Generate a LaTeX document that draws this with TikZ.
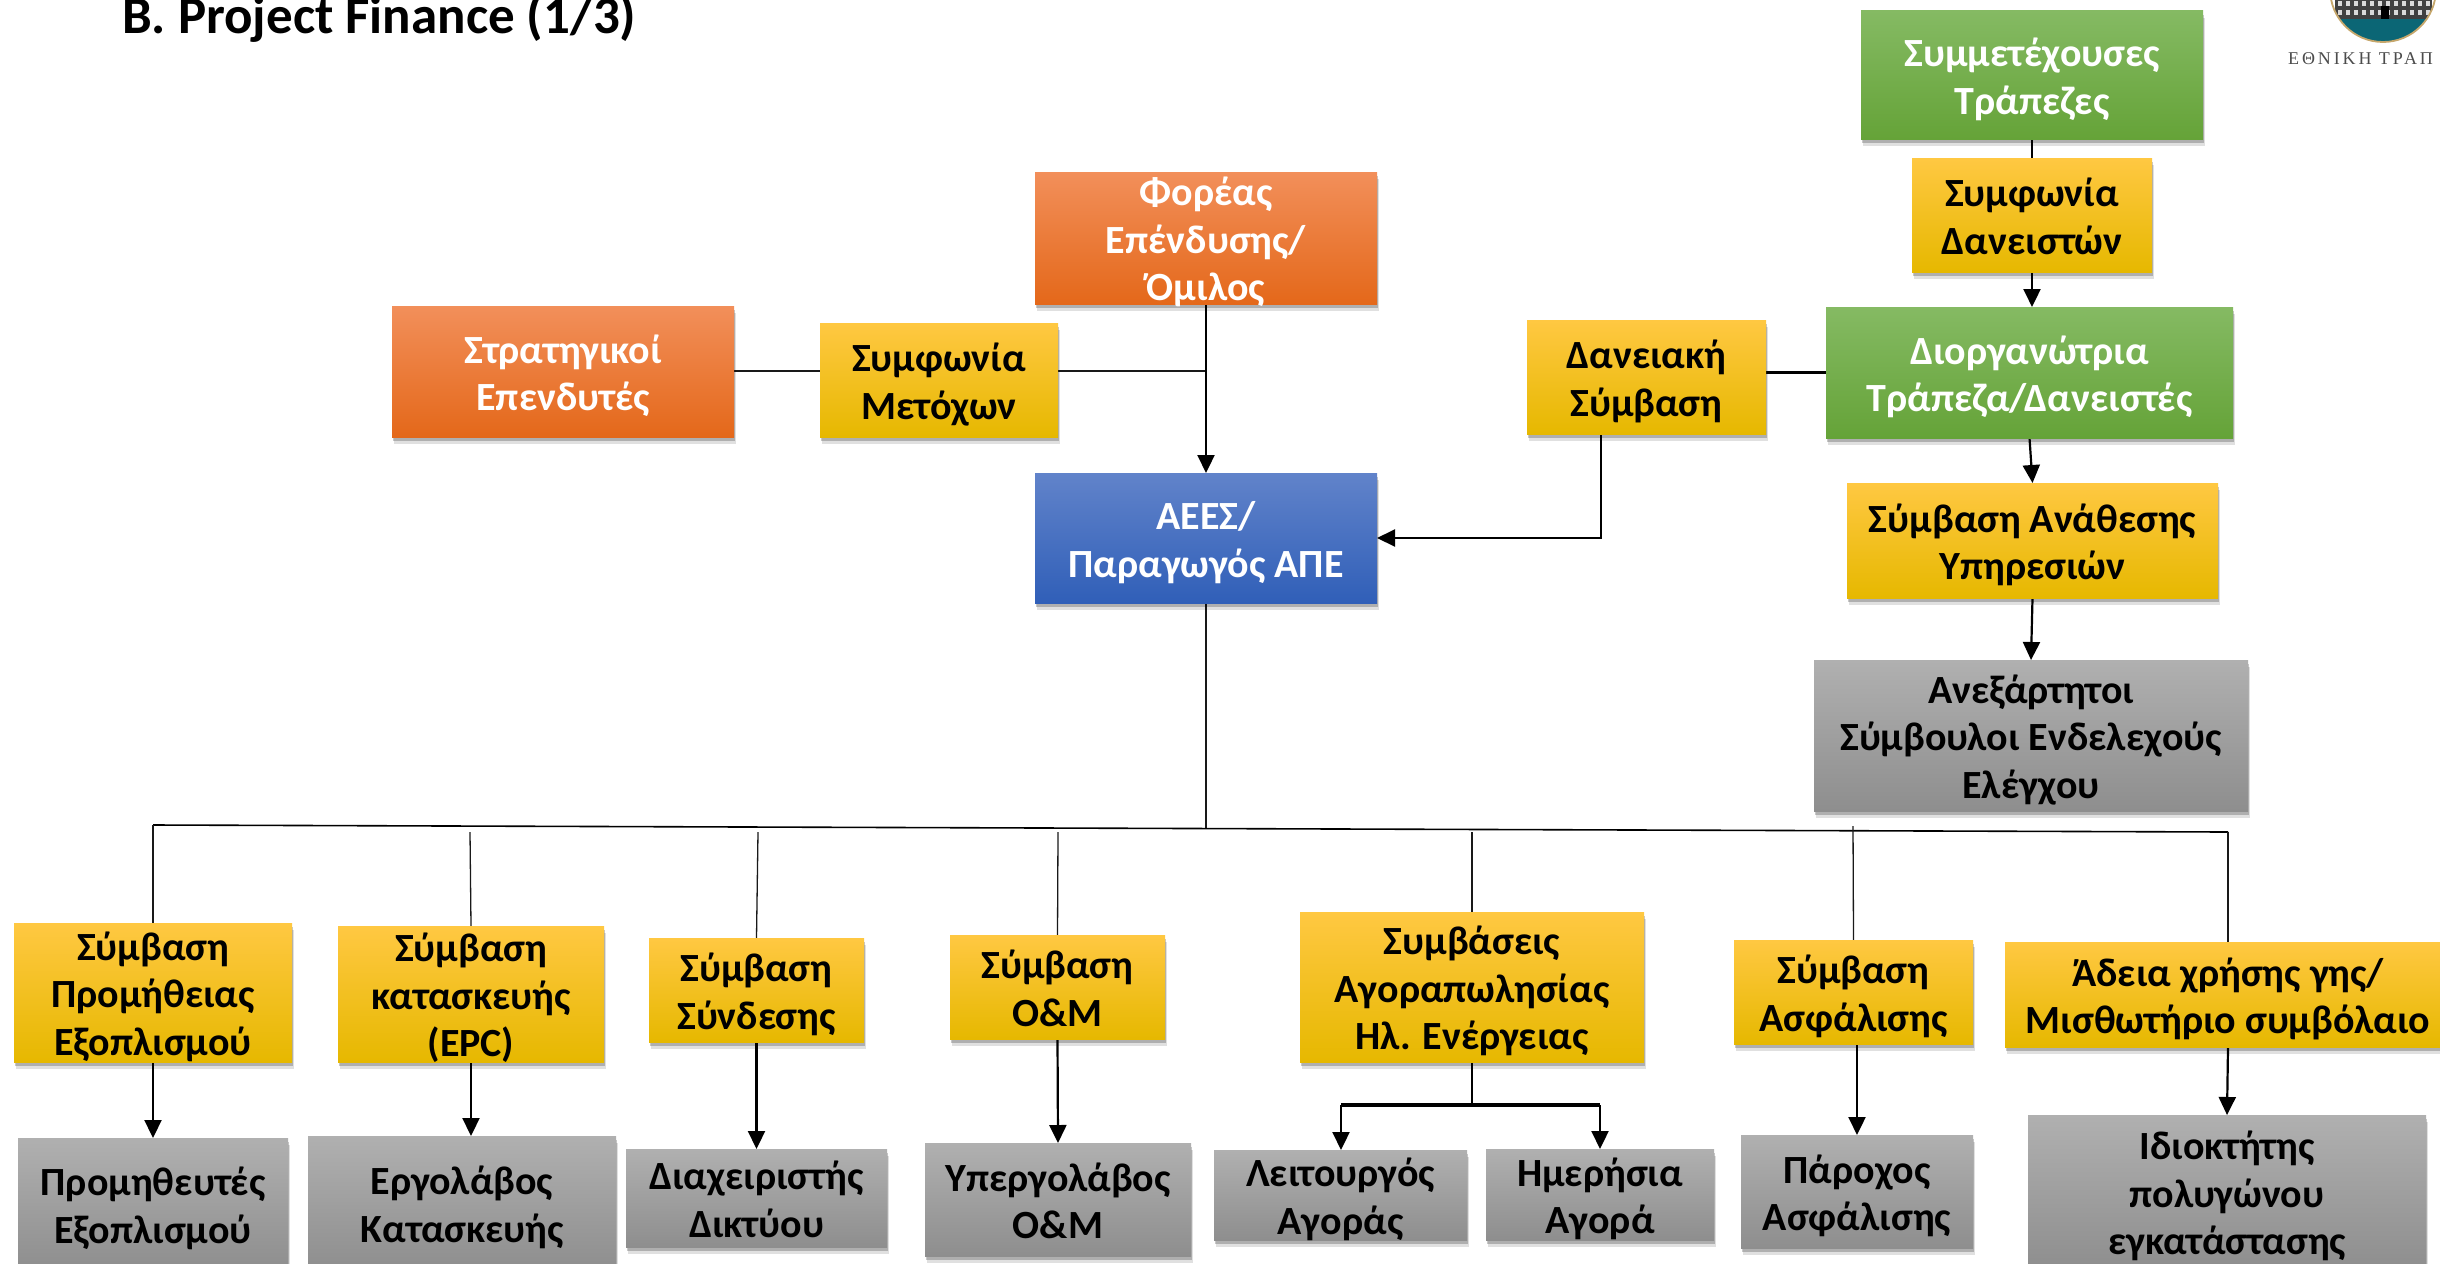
\documentclass[tikz,border=0pt]{standalone}
\usepackage{fontspec}
\setmainfont{Carlito}
\newfontfamily\logofont[LetterSpace=16]{Liberation Serif}
\usetikzlibrary{arrows.meta,shadows,calc,backgrounds}
\definecolor{oT}{HTML}{F28F5A}\definecolor{oM}{HTML}{F77B28}\definecolor{oB}{HTML}{E4681A}
\definecolor{yT}{HTML}{FFC842}\definecolor{yM}{HTML}{FFC600}\definecolor{yB}{HTML}{E6B800}
\definecolor{gT}{HTML}{85BA63}\definecolor{gM}{HTML}{70B544}\definecolor{gB}{HTML}{65A338}
\definecolor{bT}{HTML}{6183CA}\definecolor{bM}{HTML}{4472C8}\definecolor{bB}{HTML}{305FB8}
\definecolor{aT}{HTML}{B0B0B0}\definecolor{aM}{HTML}{A5A5A5}\definecolor{aB}{HTML}{8E8E8E}
\definecolor{logoteal}{HTML}{0B6675}\definecolor{logogold}{HTML}{C6A76C}
\tikzset{
  softshadow/.style={
    general shadow={shadow xshift=2pt,shadow yshift=-7pt,fill=black,opacity=.12},
    general shadow={shadow xshift=1pt,shadow yshift=-4pt,fill=black,opacity=.22}},
  boxbase/.style={rectangle,inner sep=0pt,outer sep=0pt,softshadow},
  orangebox/.style={boxbase,top color=oT,middle color=oM,bottom color=oB,text=white},
  yellowbox/.style={boxbase,top color=yT,middle color=yM,bottom color=yB,text=black},
  greenbox/.style={boxbase,top color=gT,middle color=gM,bottom color=gB,text=white},
  bluebox/.style={boxbase,top color=bT,middle color=bM,bottom color=bB,text=white},
  greybox/.style={boxbase,top color=aT,middle color=aM,bottom color=aB,text=black},
  thinline/.style={line width=1.3pt,black!90},
  midline/.style={line width=2.2pt,black},
  arrowline/.style={line width=2.2pt,black,-{Triangle[length=18pt,width=17pt]}},
}
% name, style, x1, y1, x2, y2, text
\newcommand{\bx}[7]{%
  \node[#2,minimum width=#5pt-#3pt,minimum height=#6pt-#4pt] (#1) at ({(#3+#5)/2},{(#4+#6)/2})
   {\smash{\raisebox{-12pt}{\fontsize{40}{47.5}\selectfont\bfseries
     \begin{tabular}{@{}c@{}}#7\end{tabular}}}};}
\begin{document}
\begin{tikzpicture}[x=1pt,y=-1pt]
\useasboundingbox (0,0) rectangle (2440,1263);
\clip (0,0) rectangle (2440,1263);

\node[anchor=base west,inner sep=0pt,font=\fontsize{53}{56}\selectfont\bfseries] (title) at (122,34) {B. Project Finance (1/3)};

% logo
\begin{scope}
\clip (2383,-11) circle (53);
\fill[white] (2320,-70) rectangle (2450,50);
\fill[logoteal] (2320,19) rectangle (2450,50);
\fill[black!75] (2335,-2) rectangle (2432,19);
\foreach \r in {0,1}{\foreach \c in {0,...,11}{
  \fill[white!85!black] ({2338+\c*8},{1+\r*9}) rectangle ({2342+\c*8},{6+\r*9});}}
\fill[black] (2381,6) rectangle (2389,19);
\end{scope}
\draw[logogold,line width=1.8pt] (2383,-11) circle (53);
\node[anchor=base west,inner sep=0pt,text=black!70,font=\fontsize{18}{20}\selectfont\logofont] (logotext) at (2288,65) {ΕΘΝΙΚΗ ΤΡΑΠ};

% upper boxes
\bx{strat}{orangebox}{392}{306}{734}{437}{Στρατηγικοί\\Επενδυτές}
\bx{metox}{yellowbox}{820}{323}{1058}{437}{Συμφωνία\\Μετόχων}
\bx{foreas}{orangebox}{1035}{172}{1377}{304}{Φορέας\\Επένδυσης/\\Όμιλος}
\bx{aees}{bluebox}{1035}{473}{1377}{603}{ΑΕΕΣ/\\Παραγωγός ΑΠΕ}
\bx{sym}{greenbox}{1861}{11}{2203}{139}{Συμμετέχουσες\\Τράπεζες}
\bx{dans}{yellowbox}{1912}{158}{2152}{272}{Συμφωνία\\Δανειστών}
\bx{dior}{greenbox}{1826}{307}{2233}{438}{Διοργανώτρια\\Τράπεζα/Δανειστές}
\bx{danc}{yellowbox}{1527}{320}{1766}{434}{Δανειακή\\Σύμβαση}
\bx{anath}{yellowbox}{1847}{483}{2218}{598}{Σύμβαση Ανάθεσης\\Υπηρεσιών}
\bx{anex}{greybox}{1814}{660}{2248}{811}{Ανεξάρτητοι\\Σύμβουλοι Ενδελεχούς\\Ελέγχου}

% contract boxes
\bx{prom}{yellowbox}{14}{923}{292}{1062}{Σύμβαση\\Προμήθειας\\Εξοπλισμού}
\bx{epc}{yellowbox}{338}{926}{604}{1062}{Σύμβαση\\κατασκευής\\(EPC)}
\bx{synd}{yellowbox}{649}{938}{864}{1042}{Σύμβαση\\Σύνδεσης}
\bx{om}{yellowbox}{950}{935}{1165}{1039}{Σύμβαση\\Ο\&Μ}
\bx{agor}{yellowbox}{1300}{912}{1644}{1062}{Συμβάσεις\\Αγοραπωλησίας\\Ηλ. Ενέργειας}
\bx{asf}{yellowbox}{1734}{940}{1973}{1044}{Σύμβαση\\Ασφάλισης}
\bx{adeia}{yellowbox}{2005}{942}{2451}{1047}{Άδεια χρήσης γης/\\Μισθωτήριο συμβόλαιο}

% counterparties
\bx{promth}{greybox}{18}{1138}{288}{1270}{Προμηθευτές\\Εξοπλισμού}
\bx{ergo}{greybox}{308}{1136}{616}{1270}{Εργολάβος\\Κατασκευής}
\bx{diax}{greybox}{626}{1149}{887}{1247}{Διαχειριστής\\Δικτύου}
\bx{yperg}{greybox}{925}{1143}{1191}{1256}{Υπεργολάβος\\Ο\&Μ}
\bx{leit}{greybox}{1214}{1150}{1467}{1240}{Λειτουργός\\Αγοράς}
\bx{imer}{greybox}{1486}{1149}{1714}{1240}{Ημερήσια\\Αγορά}
\bx{paro}{greybox}{1741}{1135}{1973}{1248}{Πάροχος\\Ασφάλισης}
\bx{idio}{greybox}{2028}{1115}{2426}{1269}{Ιδιοκτήτης\\πολυγώνου\\εγκατάστασης}

% free ends
\coordinate (busL) at (153,825);
\coordinate (busR) at (2228,832);
\coordinate (busM) at (1206,829);
\coordinate (s2) at (470,832);
\coordinate (s3) at (758,832);
\coordinate (s4) at (1058,832);
\coordinate (s5) at (1472,832);
\coordinate (s6) at (1853,826);
\coordinate (dandown) at (1601,434);
\coordinate (fork) at (1472,1105);
\coordinate (forkL) at (1341,1105);
\coordinate (forkR) at (1600,1105);

\begin{scope}[on background layer]
\draw[thinline] (strat.east|-0,371) -- (metox.west|-0,371);
\draw[thinline] (metox.east|-0,371) -- (foreas.south|-0,371);
\draw[arrowline] (foreas.south) -- (aees.north);
\draw[midline] (sym.south) -- (dans.north);
\draw[arrowline] (dans.south) -- (dans.south|-dior.north);
\draw[arrowline] (dior.south) -- (anath.north);
\draw[arrowline] (anath.south) -- (anex.north);
\draw[line width=3pt] (danc.east|-0,372) -- (dior.west|-0,372);
\draw[arrowline] (dandown) |- (aees.east);

\draw[thinline] (aees.south) -- (busM);
\draw[line width=1.6pt] (busL) -- (busR);
\draw[thinline] (busL) -- (prom.north);
\draw[thinline] (s2) -- (epc.north);
\draw[thinline] (s3) -- (synd.north);
\draw[thinline] (s4) -- (om.north);
\draw[thinline] (s5) -- (agor.north);
\draw[thinline] (s6) -- (asf.north);
\draw[thinline] (busR) -- (adeia.north);

\draw[arrowline] (prom.south) -- (promth.north);
\draw[arrowline] (epc.south) -- (epc.south|-ergo.north);
\draw[arrowline] (synd.south) -- (diax.north);
\draw[arrowline] (om.south) -- (yperg.north);
\draw[midline] (agor.south) -- (fork);
\draw[line width=3.2pt] (forkL) -- (forkR);
\draw[arrowline] (forkL) -- (forkL|-leit.north);
\draw[arrowline] (forkR) -- (forkR|-imer.north);
\draw[arrowline] (paro.north|-asf.south) -- (paro.north);
\draw[arrowline] (adeia.south) -- (idio.north);
\end{scope}
\end{tikzpicture}
\end{document}
